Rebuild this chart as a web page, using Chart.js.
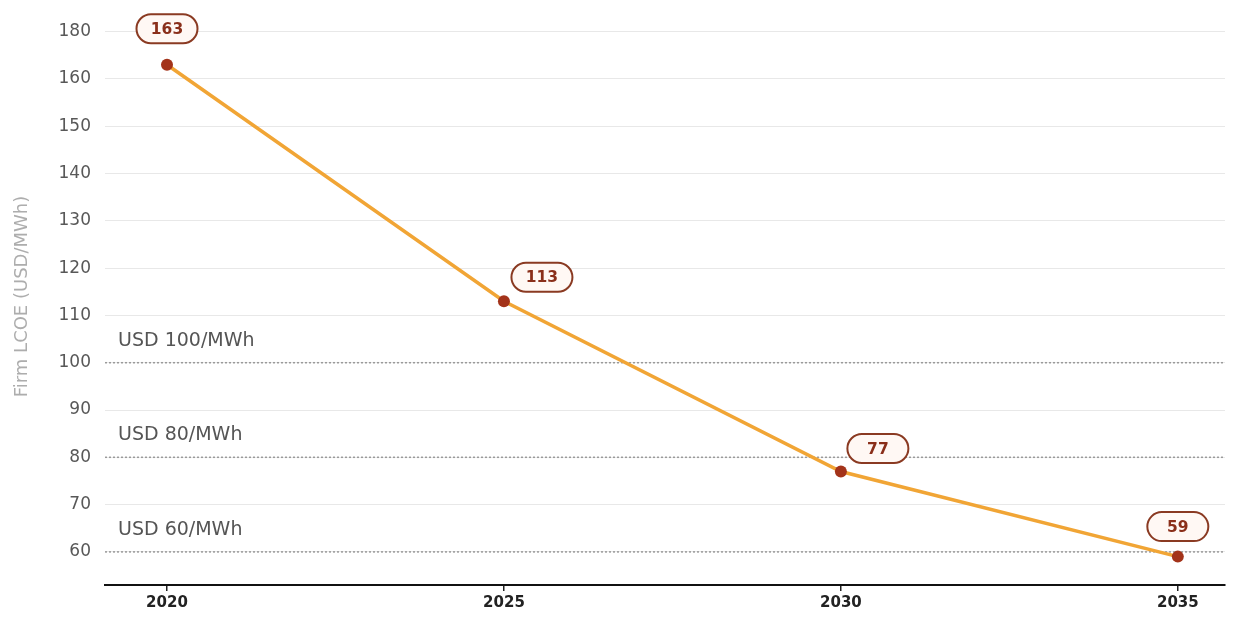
<!DOCTYPE html>
<html>
<head>
<meta charset="utf-8">
<script src="https://cdn.jsdelivr.net/npm/chart.js@4.4.1/dist/chart.umd.min.js"></script>
<style>
  html, body { margin: 0; padding: 0; background: #ffffff; }
  #wrap { width: 1240px; height: 619px; position: relative; }
</style>
</head>
<body>
<div id="wrap"><canvas id="c" width="1240" height="619"></canvas></div>
<script>
// Firm LCOE path, USD/MWh
const years = [2020, 2025, 2030, 2035];
const lcoe = [163, 113, 77, 59];

// Y axis ticks and the labels printed beside them
const yTickValues = [60, 70, 80, 90, 100, 110, 120, 130, 140, 150, 160, 170];
const yTickLabels = ['60', '70', '80', '90', '100', '110', '120', '130', '140', '150', '160', '180'];

// Reference price levels
const refLevels = [100, 80, 60];
const refLabels = ['USD 100/MWh', 'USD 80/MWh', 'USD 60/MWh'];

const X_MIN = 2019.08, X_MAX = 2035.7;
const FONT = '"DejaVu Sans", Verdana, sans-serif';

const refDatasets = refLevels.map(v => ({
  type: 'line',
  data: [{ x: X_MIN, y: v }, { x: X_MAX, y: v }],
  borderColor: '#9a9a9a',
  borderWidth: 1.5,
  borderDash: [2, 2],
  pointRadius: 0,
  order: 5
}));

// Rounded value badges next to each point
const badgePlugin = {
  id: 'badges',
  afterDatasetsDraw(chart, args, opts) {
    const ctx = chart.ctx;
    const meta = chart.getDatasetMeta(0);
    ctx.save();
    ctx.font = 'bold 15.5px ' + FONT;
    ctx.textAlign = 'center';
    ctx.textBaseline = 'middle';
    meta.data.forEach((pt, i) => {
      const off = opts.offsets[i];
      const cx = pt.x + off[0], cy = pt.y + off[1];
      const w = 61, h = 29;
      ctx.beginPath();
      ctx.roundRect(cx - w / 2, cy - h / 2, w, h, 14.5);
      ctx.fillStyle = '#fff8f4';
      ctx.fill();
      ctx.lineWidth = 2;
      ctx.strokeStyle = '#8a3a22';
      ctx.stroke();
      ctx.fillStyle = '#8a2f1a';
      ctx.fillText(String(lcoe[i]), cx, cy + 1);
    });
    ctx.restore();
  }
};

// Text captions above the reference lines
const refLabelPlugin = {
  id: 'refLabels',
  afterDatasetsDraw(chart) {
    const ctx = chart.ctx;
    const y = chart.scales.y;
    ctx.save();
    ctx.font = '19px ' + FONT;
    ctx.fillStyle = '#555555';
    ctx.textAlign = 'left';
    ctx.textBaseline = 'middle';
    refLevels.forEach((v, i) => {
      ctx.fillText(refLabels[i], chart.chartArea.left + 13, y.getPixelForValue(v) - 22);
    });
    ctx.restore();
  }
};

new Chart(document.getElementById('c'), {
  type: 'line',
  data: {
    datasets: [
      {
        data: years.map((yr, i) => ({ x: yr, y: lcoe[i] })),
        borderColor: '#f1a535',
        borderWidth: 3.5,
        pointRadius: 6,
        pointBackgroundColor: '#a3331a',
        pointBorderColor: '#a3331a',
        pointBorderWidth: 0,
        tension: 0,
        order: 1
      },
      ...refDatasets
    ]
  },
  options: {
    responsive: false,
    animation: false,
    layout: { padding: { top: 8, right: 15, left: 0, bottom: 0 } },
    plugins: {
      legend: { display: false },
      tooltip: { enabled: false },
      badges: { offsets: [[0, -36], [38, -24], [37, -23], [0, -30]] }
    },
    scales: {
      x: {
        type: 'linear',
        min: X_MIN,
        max: X_MAX,
        afterBuildTicks: s => { s.ticks = years.map(v => ({ value: v })); },
        afterFit: s => { s.height = 34; s.paddingLeft = 0; s.paddingRight = 0; },
        grid: { drawOnChartArea: false, drawTicks: true, tickLength: 6, color: '#222222', lineWidth: 1.5 },
        border: { display: true, color: '#111111', width: 2 },
        ticks: {
          color: '#222222',
          font: { family: FONT, size: 15, weight: 'bold' },
          padding: 3,
          callback: v => String(v)
        }
      },
      y: {
        min: 53,
        max: 175,
        afterBuildTicks: s => { s.ticks = yTickValues.map(v => ({ value: v })); },
        afterFit: s => { s.width = 105; s.paddingTop = 0; s.paddingBottom = 0; },
        grid: { color: '#e8e8e8', lineWidth: 1, drawTicks: false },
        border: { display: false },
        ticks: {
          color: '#585858',
          font: { family: FONT, size: 17 },
          padding: 14,
          callback: v => yTickLabels[yTickValues.indexOf(v)]
        },
        title: {
          display: true,
          text: 'Firm LCOE (USD/MWh)',
          color: '#adadad',
          font: { family: FONT, size: 18 },
          padding: { top: 12, bottom: 0 }
        }
      }
    }
  },
  plugins: [badgePlugin, refLabelPlugin]
});
</script>
</body>
</html>
